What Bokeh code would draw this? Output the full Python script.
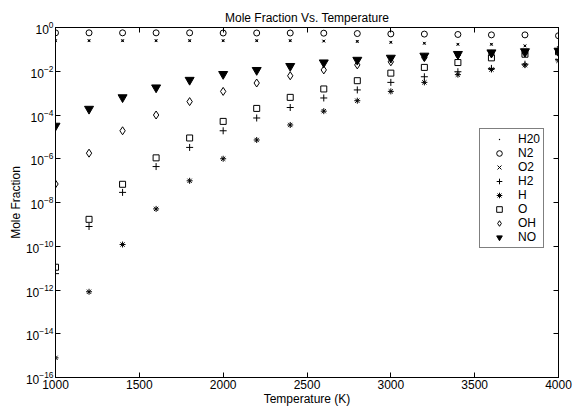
from bokeh.plotting import figure
from bokeh.models import LogAxis, LinearAxis, FixedTicker, Range1d, CustomJSTickFormatter
from bokeh.embed import file_html
from bokeh.resources import INLINE

# ---- data ----
temperature = [1000, 1200, 1400, 1600, 1800, 2000, 2200, 2400,
               2600, 2800, 3000, 3200, 3400, 3600, 3800, 4000]
h2o = [0.25, 0.25, 0.25, 0.25, 0.25, 0.25, 0.25, 0.25,
       0.24, 0.23, 0.21, 0.19, 0.17, 0.17, 0.145, 0.12]
n2 = [0.57, 0.57, 0.57, 0.57, 0.57, 0.56, 0.56, 0.56,
      0.55, 0.53, 0.51, 0.50, 0.48, 0.46, 0.46, 0.42]
o2 = [0.25, 0.25, 0.25, 0.25, 0.25, 0.25, 0.25, 0.25,
      0.24, 0.23, 0.21, 0.19, 0.17, 0.17, 0.145, 0.12]
h2 = [5.6e-12, 8e-10, 2.9e-8, 4.4e-7, 3.3e-6, 1.9e-5, 7.3e-5, 2.2e-4,
      6e-4, 1.4e-3, 3.1e-3, 5.6e-3, 9.5e-3, 1.35e-2, 2.1e-2, 3.5e-2]
h = [7.9e-16, 8.3e-13, 1.2e-10, 5.1e-9, 9.8e-8, 1.0e-6, 7.2e-6, 3.5e-5,
     1.5e-4, 4.5e-4, 1.2e-3, 3.1e-3, 7.0e-3, 1.2e-2, 1.9e-2, 3.0e-2]
o = [1.1e-11, 1.7e-9, 6.8e-8, 1.1e-6, 8.9e-6, 5.1e-5, 2.0e-4, 6.4e-4,
     1.55e-3, 3.7e-3, 8.2e-3, 1.5e-2, 2.5e-2, 4.1e-2, 6.0e-2, 7.8e-2]
oh = [7e-8, 1.8e-6, 1.9e-5, 1.0e-4, 4.1e-4, 1.2e-3, 2.9e-3, 6.2e-3,
      1.15e-2, 1.95e-2, 2.7e-2, 4.2e-2, 5.5e-2, 6.2e-2, 6.8e-2, 7.0e-2]
no = [3.2e-5, 1.9e-4, 6.4e-4, 1.8e-3, 4.0e-3, 7.4e-3, 1.13e-2, 1.72e-2,
      2.5e-2, 3.3e-2, 4.1e-2, 5.1e-2, 6.1e-2, 7.2e-2, 8.1e-2, 8.6e-2]

x_ticks = [1000, 1500, 2000, 2500, 3000, 3500, 4000]
y_ticks = [1e-16, 1e-14, 1e-12, 1e-10, 1e-8, 1e-6, 1e-4, 1e-2, 1e0]

FONT = "Liberation Sans"

p = figure(width=579, height=408, y_axis_type="log",
           x_range=Range1d(1000, 4000), y_range=Range1d(1e-16, 1),
           output_backend="svg", toolbar_location=None,
           title="Mole Fraction Vs. Temperature",
           min_border_left=55, min_border_right=21, min_border_top=27, min_border_bottom=31)
p.background_fill_color = "white"
p.border_fill_color = "white"
p.grid.visible = False
p.outline_line_color = "black"
p.outline_line_width = 1

p.title.align = "center"
p.title.text_font = FONT
p.title.text_font_style = "normal"
p.title.text_font_size = "12px"
p.title.text_color = "black"
p.title.standoff = 6

for ax in p.xaxis:
    ax.ticker = FixedTicker(ticks=x_ticks, minor_ticks=[])
    ax.axis_label = "Temperature (K)"
for ax in p.yaxis:
    ax.ticker = FixedTicker(ticks=y_ticks, minor_ticks=[])
    ax.axis_label = "Mole Fraction"

for ax in list(p.xaxis) + list(p.yaxis):
    ax.major_tick_in = 5
    ax.major_tick_out = 0
    ax.minor_tick_in = 0
    ax.minor_tick_out = 0
    ax.axis_line_color = "black"
    ax.major_tick_line_color = "black"
    ax.major_label_text_font = FONT
    ax.major_label_text_font_size = "12px"
    ax.major_label_text_color = "black"
    ax.major_label_standoff = 2
    ax.axis_label_text_font = FONT
    ax.axis_label_text_font_size = "12px"
    ax.axis_label_text_font_style = "normal"
    ax.axis_label_text_color = "black"
    ax.axis_label_standoff = 0

blank = CustomJSTickFormatter(code="return ''")
top = LinearAxis(ticker=FixedTicker(ticks=x_ticks, minor_ticks=[]), formatter=blank,
                 major_tick_in=5, major_tick_out=0, major_label_text_font_size="1px",
                 major_label_standoff=0, major_label_text_color=None,
                 axis_line_color="black", major_tick_line_color="black")
right = LogAxis(ticker=FixedTicker(ticks=y_ticks, minor_ticks=[]), formatter=blank,
                major_tick_in=5, major_tick_out=0, major_label_text_font_size="1px",
                major_label_standoff=0, major_label_text_color=None,
                axis_line_color="black", major_tick_line_color="black")
p.add_layout(top, "above")
p.add_layout(right, "right")

p.scatter(temperature, h2o, marker="dot", size=9, color="black", legend_label="H20")
p.scatter(temperature, n2, marker="circle", size=6, line_color="black",
          fill_color=None, legend_label="N2")
p.scatter(temperature, o2, marker="x", size=4, line_color="black", legend_label="O2")
p.scatter(temperature, h2, marker="cross", size=7, line_color="black", legend_label="H2")
p.scatter(temperature, h, marker="asterisk", size=6, line_color="black", legend_label="H")
p.scatter(temperature, o, marker="square", size=6, line_color="black",
          fill_color=None, legend_label="O")
p.scatter(temperature, oh, marker="diamond", size=8, line_color="black",
          fill_color=None, legend_label="OH")
p.scatter(temperature, no, marker="inverted_triangle", size=9, line_color="black",
          fill_color="black", legend_label="NO")

lg = p.legend[0]
lg.location = (424, 129)
lg.border_line_color = "black"
lg.border_line_width = 1
lg.background_fill_color = "white"
lg.background_fill_alpha = 1
lg.label_text_font = FONT
lg.label_text_font_size = "12px"
lg.label_text_color = "black"
lg.label_height = 14
lg.glyph_height = 14
lg.glyph_width = 32
lg.label_standoff = 3
lg.spacing = 0
lg.padding = 3
lg.margin = 0

open("out.html", "w").write(file_html(p, INLINE))
